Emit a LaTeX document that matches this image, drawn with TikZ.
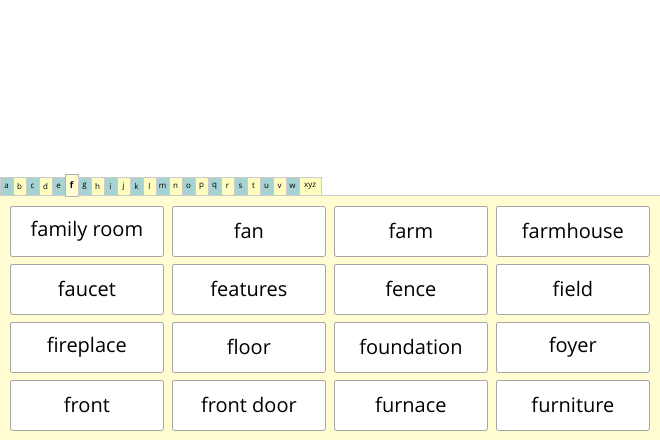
\documentclass[tikz,border=0pt]{standalone}
\usepackage{fontspec}
\setmainfont{Open Sans}
\begin{document}
\begin{tikzpicture}[x=1pt,y=-1pt,
 card/.style={draw=gray!70,fill=white,rounded corners=2pt,line width=0.8pt,minimum width=153pt,minimum height=50pt,font=\fontsize{20}{22}\selectfont,anchor=north west,inner sep=0pt},
 tabt/.style={draw=gray!40,fill=teal!35,line width=0.4pt,minimum height=18pt,minimum width=12.6pt,inner sep=0pt,anchor=north west,font=\fontsize{8}{9}\selectfont},
 taby/.style={tabt,fill=yellow!25}]
\useasboundingbox (0,0) rectangle (660,440);
\fill[white] (0,0) rectangle (660,440);
\fill[yellow!18] (0,195) rectangle (660,440);
\draw[gray!40] (0,195) -- (660,195);
\foreach \l [count=\i from 0] in {a,b,c,d,e,f,g,h,i,j,k,l,m,n,o,p,q,r,s,t,u,v,w}{
 \pgfmathtruncatemacro\odd{mod(\i,2)}
 \ifnum\i=5
  \node[taby,fill=yellow!18,draw=gray!60,minimum height=22pt,font=\bfseries\fontsize{9}{9}\selectfont] (t\i) at (\i*13,174) {\l};
 \else\ifnum\odd=0
  \node[tabt] (t\i) at (\i*13,177) {\l};
 \else
  \node[taby] (t\i) at (\i*13,177) {\l};
 \fi\fi}
\node[taby,minimum width=22pt] (txyz) at (299,177) {xyz};
\foreach \t [count=\k from 0] in {family room,fan,farm,farmhouse,faucet,features,fence,field,fireplace,floor,foundation,foyer,front,front door,furnace,furniture}{
 \pgfmathtruncatemacro\c{mod(\k,4)}
 \pgfmathtruncatemacro\r{div(\k,4)}
 \node[card] (c\k) at (10+\c*162,206+\r*58) {\t};}
\end{tikzpicture}
\end{document}
